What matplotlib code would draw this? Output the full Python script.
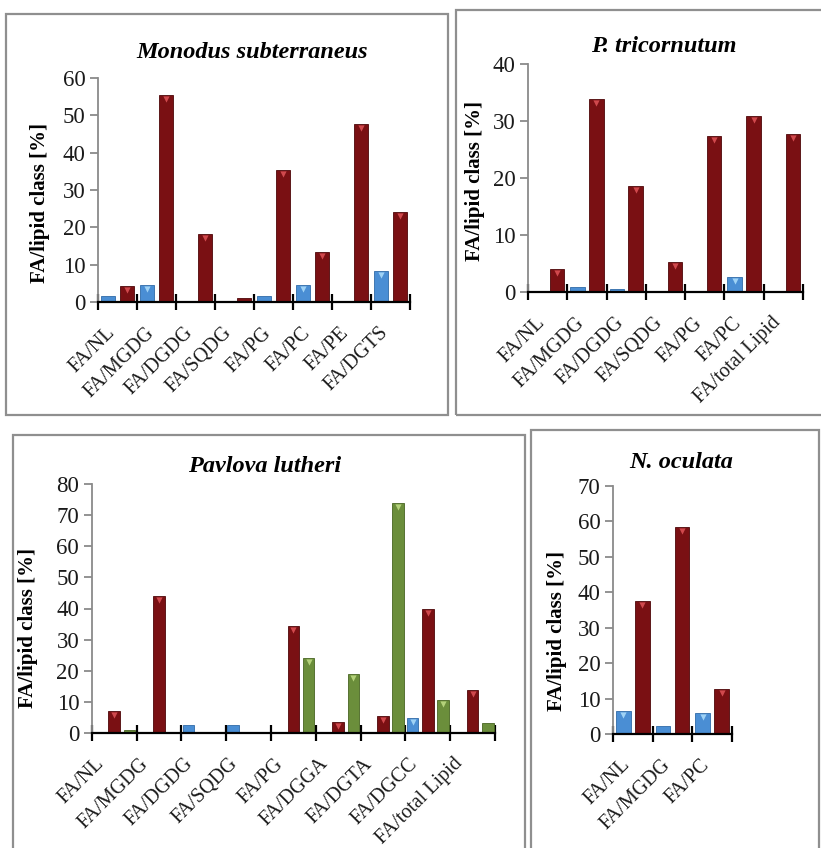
import matplotlib
matplotlib.use('Agg')
import matplotlib.pyplot as plt
from matplotlib.patches import Rectangle
from matplotlib.transforms import offset_copy, ScaledTranslation
import numpy as np

#%% data
mon_labels = ['FA/NL', 'FA/MGDG', 'FA/DGDG', 'FA/SQDG', 'FA/PG', 'FA/PC', 'FA/PE', 'FA/DGTS']
mon_blue = [1.5, 4.6, 0, 0, 1.5, 4.6, 0, 8.2]
mon_red = [4.3, 55.4, 18.3, 1.0, 35.3, 13.4, 47.6, 24.1]

tri_labels = ['FA/NL', 'FA/MGDG', 'FA/DGDG', 'FA/SQDG', 'FA/PG', 'FA/PC', 'FA/total Lipid']
tri_blue = [0, 0.9, 0.6, 0, 0, 2.7, 0]
tri_red = [4.0, 33.9, 18.6, 5.3, 27.3, 30.8, 27.7]

pav_labels = ['FA/NL', 'FA/MGDG', 'FA/DGDG', 'FA/SQDG', 'FA/PG', 'FA/DGGA',
              'FA/DGTA', 'FA/DGCC', 'FA/total Lipid']
pav_blue = [0, 0, 2.5, 2.5, 0.4, 0.4, 0, 4.9, 0.4]
pav_red = [7.0, 44.1, 0.4, 0.4, 34.5, 3.6, 5.4, 39.9, 13.8]
pav_green = [1.1, 0, 0, 0, 24.2, 18.9, 74.0, 10.6, 3.2]

ocu_labels = ['FA/NL', 'FA/MGDG', 'FA/PC']
ocu_blue = [6.4, 2.3, 5.8]
ocu_red = [37.5, 58.4, 12.6]

#%% style
plt.rcParams['font.family'] = ['Liberation Serif', 'DejaVu Serif']
# (fill, edge, top marker)
BLUE = ('#4a8ed4', '#2f6aa8', '#9fd2f5')
RED = ('#7a1013', '#4e0709', '#d0494d')
GREEN = ('#6b8e3b', '#486522', '#b4d27a')

W, H = 821, 848
fig = plt.figure(figsize=(W / 100, H / 100), dpi=100)


def px_axes(l, t, r, b):
    return fig.add_axes([l / W, 1 - b / H, (r - l) / W, (b - t) / H])


def box(l, t, r, b):
    fig.patches.append(Rectangle((l / W, 1 - b / H), (r - l) / W, (b - t) / H,
                                 transform=fig.transFigure, fill=False,
                                 edgecolor='#8f8f8f', linewidth=1.6))


def panel(ax, labels, series, colors, ymax, step, title, tx, ty, ylab_x, ylab_y, lab_dx):
    n = len(labels)
    x = np.arange(n)
    if len(series) == 2:
        offs, w = [-0.24, 0.24], 0.37
    else:
        offs, w = [-0.34, 0.0, 0.34], 0.26
    mark_tr = offset_copy(ax.transData, fig=fig, y=-4, units='dots')
    for vals, off, (c, ec, mc) in zip(series, offs, colors):
        vals = np.array(vals, dtype=float)
        ax.bar(x + off, vals, w, color=c, edgecolor=ec, linewidth=0.6, zorder=2)
        m = vals > ymax * 0.04
        ax.scatter((x + off)[m], vals[m], marker='v', s=20, color=mc,
                   linewidths=0, zorder=3, transform=mark_tr)
    ax.set_xlim(-0.5, n - 0.5)
    ax.set_ylim(0, ymax)
    for s in ['top', 'right']:
        ax.spines[s].set_visible(False)
    ax.spines['left'].set_color('#8a8a8a')
    ax.spines['left'].set_linewidth(1.3)
    ax.spines['bottom'].set_color('black')
    ax.spines['bottom'].set_linewidth(1.6)
    ax.spines['bottom'].set_zorder(4)
    ax.set_yticks(np.arange(0, ymax + 1, step))
    ax.tick_params(axis='y', direction='out', length=6, width=1.3, color='#8a8a8a',
                   labelsize=16.5, pad=3, labelcolor='#1a1a1a')
    ax.set_xticks(x)
    ax.set_xticklabels(labels, rotation=45, ha='right', rotation_mode='anchor',
                       fontsize=14.5, color='#1a1a1a')
    ax.tick_params(axis='x', which='major', length=0, pad=9)
    shift = ScaledTranslation(lab_dx / 100, -9 / 100, fig.dpi_scale_trans)
    for lab in ax.get_xticklabels():
        lab.set_transform(lab.get_transform() + shift)
    ax.set_xticks(np.arange(n + 1) - 0.5, minor=True)
    ax.tick_params(axis='x', which='minor', direction='inout', length=11, width=1.6,
                   color='black')
    ax.set_ylabel('FA/lipid class [%]', fontsize=15, fontweight='bold')
    ax.yaxis.set_label_coords(ylab_x, ylab_y)
    fig.text(tx / W, 1 - ty / H, title, ha='center', va='center', fontsize=17.5,
             fontweight='bold', fontstyle='italic')


#%% panels
box(6, 14, 448, 415)
box(456, 10, 840, 415)
box(13, 435, 525, 870)
box(531, 430, 819, 870)

ax1 = px_axes(98, 78, 410, 302)
panel(ax1, mon_labels, [mon_blue, mon_red], [BLUE, RED], 60, 10,
      'Monodus subterraneus', 252, 53, -0.154, 0.44, -12)

ax2 = px_axes(528, 64, 803, 292)
panel(ax2, tri_labels, [tri_blue, tri_red], [BLUE, RED], 40, 10,
      'P. tricornutum', 664, 47, -0.156, 0.487, -12)

ax3 = px_axes(91.7, 484, 495, 733)
panel(ax3, pav_labels, [pav_blue, pav_red, pav_green], [BLUE, RED, GREEN], 80, 10,
      'Pavlova lutheri', 265, 467, -0.133, 0.42, -20)

ax4 = px_axes(613, 486, 732, 734)
panel(ax4, ocu_labels, [ocu_blue, ocu_red], [BLUE, RED], 70, 10,
      'N. oculata', 681, 463, -0.387, 0.415, -12)

plt.savefig('out.png', dpi=100)
